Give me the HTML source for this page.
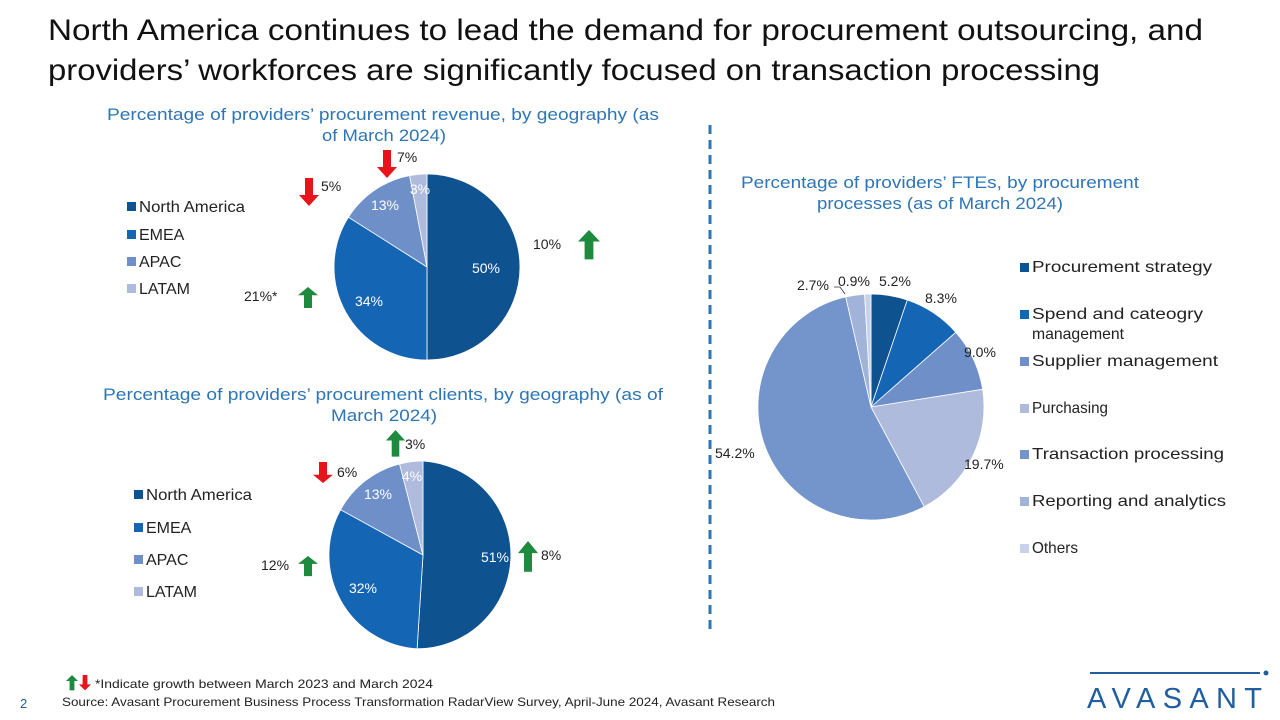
<!DOCTYPE html>
<html><head><meta charset="utf-8"><style>
body{margin:0;width:1280px;height:720px;background:#fff;overflow:hidden;font-family:"Liberation Sans",sans-serif}
svg{position:absolute;left:0;top:0}
</style></head><body>
<svg width="1280" height="720" viewBox="0 0 1280 720" font-family="Liberation Sans, sans-serif">
<defs>
<polygon id="up" points="10,0 20,11 14,11 14,28 6,28 6,11 0,11"/>
<polygon id="dn" points="6,0 14,0 14,17 20,17 10,28 0,17 6,17"/>
</defs>
<text x="48" y="40" font-size="30" fill="#111" textLength="1155" lengthAdjust="spacingAndGlyphs">North America continues to lead the demand for procurement outsourcing, and</text>
<text x="48" y="80" font-size="30" fill="#111" textLength="1052" lengthAdjust="spacingAndGlyphs">providers’ workforces are significantly focused on transaction processing</text>

<g fill="#2e75b6" font-size="17">
<text x="107" y="120" textLength="552" lengthAdjust="spacingAndGlyphs">Percentage of providers’ procurement revenue, by geography (as</text>
<text x="322" y="141" textLength="124" lengthAdjust="spacingAndGlyphs">of March 2024)</text>
<text x="103" y="400" textLength="560" lengthAdjust="spacingAndGlyphs">Percentage of providers’ procurement clients, by geography (as of</text>
<text x="331" y="421" textLength="106" lengthAdjust="spacingAndGlyphs">March 2024)</text>
<text x="741" y="188" textLength="398" lengthAdjust="spacingAndGlyphs">Percentage of providers’ FTEs, by procurement</text>
<text x="817" y="209" textLength="246" lengthAdjust="spacingAndGlyphs">processes (as of March 2024)</text>
</g>

<line x1="710" y1="125" x2="710" y2="632" stroke="#2e75b6" stroke-width="3" stroke-dasharray="9,6"/>

<!-- Pie 1 -->
<g stroke="#fff" stroke-width="0.8">
<path d="M427,267 L427,174 A93,93 0 0 1 427,360 Z" fill="#0e5290"/>
<path d="M427,267 L427,360 A93,93 0 0 1 348.5,217.2 Z" fill="#1565b5"/>
<path d="M427,267 L348.5,217.2 A93,93 0 0 1 409.6,175.6 Z" fill="#6f8fc8"/>
<path d="M427,267 L409.6,175.6 A93,93 0 0 1 427,174 Z" fill="#aebbdc"/>
</g>
<g font-size="14" fill="#fff" text-anchor="middle">
<text x="486" y="273">50%</text><text x="369" y="306">34%</text><text x="385" y="210">13%</text><text x="420" y="194">3%</text>
</g>
<g font-size="14" fill="#222">
<text x="397" y="162">7%</text><text x="321" y="191">5%</text><text x="533" y="249">10%</text><text x="244" y="301">21%*</text>
</g>
<use href="#dn" x="377" y="150" fill="#e8141c"/>
<use href="#dn" x="299" y="178" fill="#e8141c"/>
<g transform="translate(578,230) scale(1.1,1.05)"><use href="#up" fill="#1e8a3e"/></g>
<g transform="translate(298,287) scale(1,0.75)"><use href="#up" fill="#1e8a3e"/></g>
<g font-size="16" fill="#222">
<rect x="127" y="202" width="9" height="9" fill="#0e5290"/><text x="139" y="212" textLength="106" lengthAdjust="spacingAndGlyphs">North America</text>
<rect x="127" y="230" width="9" height="9" fill="#1565b5"/><text x="139" y="240">EMEA</text>
<rect x="127" y="257" width="9" height="9" fill="#6f8fc8"/><text x="139" y="267">APAC</text>
<rect x="127" y="284" width="9" height="9" fill="#aebbdc"/><text x="139" y="294">LATAM</text>
</g>

<!-- Pie 2 -->
<g stroke="#fff" stroke-width="0.8">
<path d="M423,555 L423,461 A94,94 0 0 1 417.1,648.8 Z" fill="#0e5290"/>
<path d="M423,555 L417.1,648.8 A94,94 0 0 1 340.6,509.7 Z" fill="#1565b5"/>
<path d="M423,555 L340.6,509.7 A94,94 0 0 1 399.6,464.0 Z" fill="#6f8fc8"/>
<path d="M423,555 L399.6,464.0 A94,94 0 0 1 423,461 Z" fill="#aebbdc"/>
</g>
<g font-size="14" fill="#fff" text-anchor="middle">
<text x="495" y="562">51%</text><text x="363" y="593">32%</text><text x="378" y="499">13%</text><text x="412" y="481">4%</text>
</g>
<g font-size="14" fill="#222">
<text x="405" y="449">3%</text><text x="337" y="477">6%</text><text x="541" y="560">8%</text><text x="261" y="570">12%</text>
</g>
<g transform="translate(386,430) scale(0.95,0.95)"><use href="#up" fill="#1e8a3e"/></g>
<g transform="translate(313,462) scale(1,0.75)"><use href="#dn" fill="#e8141c"/></g>
<g transform="translate(298,556) scale(1,0.72)"><use href="#up" fill="#1e8a3e"/></g>
<g transform="translate(518,541) scale(1,1.1)"><use href="#up" fill="#1e8a3e"/></g>
<g font-size="16" fill="#222">
<rect x="134" y="490" width="9" height="9" fill="#0e5290"/><text x="146" y="500" textLength="106" lengthAdjust="spacingAndGlyphs">North America</text>
<rect x="134" y="523" width="9" height="9" fill="#1565b5"/><text x="146" y="533">EMEA</text>
<rect x="134" y="555" width="9" height="9" fill="#6f8fc8"/><text x="146" y="565">APAC</text>
<rect x="134" y="587" width="9" height="9" fill="#aebbdc"/><text x="146" y="597">LATAM</text>
</g>

<!-- Pie 3 -->
<g stroke="#fff" stroke-width="0.8">
<path d="M871,407 L871,294 A113,113 0 0 1 907.3,300.0 Z" fill="#0e5290"/>
<path d="M871,407 L907.3,300.0 A113,113 0 0 1 955.8,332.3 Z" fill="#1565b5"/>
<path d="M871,407 L955.8,332.3 A113,113 0 0 1 982.6,389.3 Z" fill="#6f8fc8"/>
<path d="M871,407 L982.6,389.3 A113,113 0 0 1 924.2,506.7 Z" fill="#aebbdc"/>
<path d="M871,407 L924.2,506.7 A113,113 0 1 1 845.7,296.9 Z" fill="#7395cb"/>
<path d="M871,407 L845.7,296.9 A113,113 0 0 1 864.6,294.2 Z" fill="#a2b3d9"/>
<path d="M871,407 L864.6,294.2 A113,113 0 0 1 871,294 Z" fill="#c8d2ea"/>
</g>
<path d="M834,287 L840,287 L845,294" fill="none" stroke="#333" stroke-width="0.8"/>
<g font-size="14" fill="#222">
<text x="797" y="290">2.7%</text><text x="838" y="286">0.9%</text><text x="879" y="286">5.2%</text>
<text x="925" y="303">8.3%</text><text x="964" y="357">9.0%</text><text x="964" y="469">19.7%</text><text x="715" y="458">54.2%</text>
</g>
<g font-size="16" fill="#222">
<rect x="1020" y="263" width="9" height="9" fill="#0e5290"/><text x="1032" y="272" textLength="180" lengthAdjust="spacingAndGlyphs">Procurement strategy</text>
<rect x="1020" y="310" width="9" height="9" fill="#1565b5"/><text x="1032" y="319" textLength="171" lengthAdjust="spacingAndGlyphs">Spend and cateogry</text><text x="1032" y="339" textLength="92" lengthAdjust="spacingAndGlyphs">management</text>
<rect x="1020" y="357" width="9" height="9" fill="#6f8fc8"/><text x="1032" y="366" textLength="186" lengthAdjust="spacingAndGlyphs">Supplier management</text>
<rect x="1020" y="404" width="9" height="9" fill="#aebbdc"/><text x="1032" y="413" textLength="76" lengthAdjust="spacingAndGlyphs">Purchasing</text>
<rect x="1020" y="450" width="9" height="9" fill="#7395cb"/><text x="1032" y="459" textLength="192" lengthAdjust="spacingAndGlyphs">Transaction processing</text>
<rect x="1020" y="497" width="9" height="9" fill="#a2b3d9"/><text x="1032" y="506" textLength="194" lengthAdjust="spacingAndGlyphs">Reporting and analytics</text>
<rect x="1020" y="544" width="9" height="9" fill="#c8d2ea"/><text x="1032" y="553" textLength="46" lengthAdjust="spacingAndGlyphs">Others</text>
</g>

<!-- footer -->
<g transform="translate(66,675) scale(0.6,0.55)"><use href="#up" fill="#1e8a3e"/></g>
<g transform="translate(79,675) scale(0.6,0.55)"><use href="#dn" fill="#e8141c"/></g>
<text x="95" y="688" font-size="12" fill="#222" textLength="338" lengthAdjust="spacingAndGlyphs">*Indicate growth between March 2023 and March 2024</text>
<text x="20" y="708" font-size="13" fill="#1f5fa0">2</text>
<text x="62" y="706" font-size="12" fill="#222" textLength="713" lengthAdjust="spacingAndGlyphs">Source: Avasant Procurement Business Process Transformation RadarView Survey, April-June 2024, Avasant Research</text>
<line x1="1090" y1="673" x2="1260" y2="673" stroke="#1f5fa0" stroke-width="2"/>
<circle cx="1266" cy="673" r="2.5" fill="#1f5fa0"/>
<text x="1087" y="708" font-size="29" fill="#1f5fa0" letter-spacing="8" textLength="183">AVASANT</text>
</svg>
</body></html>
